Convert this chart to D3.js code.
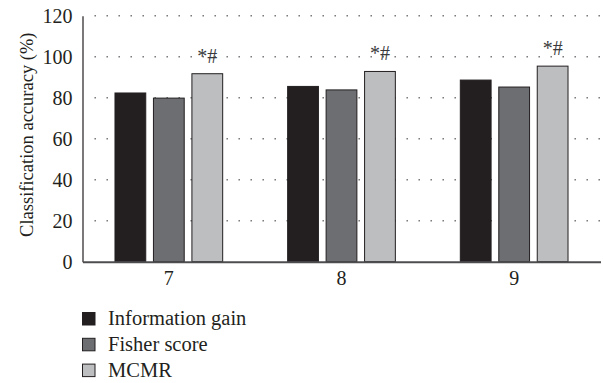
<!DOCTYPE html>
<html>
<head>
<meta charset="utf-8">
<script src="https://cdn.jsdelivr.net/npm/d3@7"></script>
<style>
  html, body { margin: 0; padding: 0; background: #fff; }
  svg { display: block; font-family: "Liberation Serif", "DejaVu Serif", serif; }
</style>
</head>
<body>
<svg id="chart" width="603" height="383"></svg>
<script>
// Number of selected features on the x axis
const categories = ["7", "8", "9"];
// Feature selection methods
const seriesNames = ["Information gain", "Fisher score", "MCMR"];
// Classification accuracy (%) per method
const infoGain = [82.3, 85.5, 88.6];
const fisherScore = [79.8, 83.8, 85.2];
const mcmr = [91.7, 92.8, 95.4];
// Significance markers over MCMR bars
const markers = ["*#", "*#", "*#"];
const yTicks = [0, 20, 40, 60, 80, 100, 120];

const colors = ["#231f20", "#6d6e71", "#bcbec0"];
const seriesValues = [infoGain, fisherScore, mcmr];

const svg = d3.select("#chart");
const plotLeft = 82.5, plotRight = 600.5, plotTop = 15.7, plotBottom = 261.7;

const y = d3.scaleLinear().domain([0, 120]).range([plotBottom, plotTop]);
const x0 = d3.scaleBand().domain(categories).range([plotLeft, plotRight]).padding(0);
const bw = x0.bandwidth();
const groupW = 107.7;
const x1 = d3.scaleBand().domain(seriesNames)
  .range([(bw - groupW) / 2, (bw + groupW) / 2]).paddingInner(0.2).paddingOuter(0);

// Dotted horizontal gridlines
svg.append("g").selectAll("line").data(yTicks.filter(t => t > 0)).join("line")
  .attr("x1", plotLeft + 12).attr("x2", plotRight)
  .attr("y1", d => y(d)).attr("y2", d => y(d))
  .attr("stroke", "#6d6e71").attr("stroke-width", 1.4)
  .attr("stroke-dasharray", "1.4 10.6");

// Bars
const rows = [];
categories.forEach((c, i) => seriesNames.forEach((s, j) => rows.push({ c, s, j, v: seriesValues[j][i] })));
svg.append("g").selectAll("rect").data(rows).join("rect")
  .attr("x", d => x0(d.c) + x1(d.s))
  .attr("y", d => y(d.v))
  .attr("width", x1.bandwidth())
  .attr("height", d => y(0) - y(d.v))
  .attr("fill", d => colors[d.j])
  .attr("stroke", "#231f20").attr("stroke-width", 1);

// Significance markers
svg.append("g").selectAll("text").data(categories).join("text")
  .attr("x", (c) => x0(c) + x1("MCMR") + x1.bandwidth() / 2)
  .attr("y", (c, i) => y(mcmr[i]) - 11)
  .attr("text-anchor", "middle")
  .attr("font-size", 20).attr("fill", "#3a3a3c")
  .text((c, i) => markers[i]);

// Y axis
const yAxis = svg.append("g").attr("transform", `translate(${plotLeft},0)`)
  .call(d3.axisLeft(y).tickValues(yTicks).tickSize(0).tickPadding(10));
yAxis.select(".domain").attr("stroke", "#231f20").attr("stroke-width", 1.2);
yAxis.selectAll("text").attr("font-size", 20).attr("font-family", "Liberation Serif").attr("fill", "#231f20");

// X axis
const xAxis = svg.append("g").attr("transform", `translate(0,${plotBottom})`)
  .call(d3.axisBottom(x0).tickSize(0).tickPadding(9));
xAxis.select(".domain").attr("stroke", "#4d4d4f").attr("stroke-width", 2);
xAxis.selectAll("text").attr("font-size", 20).attr("font-family", "Liberation Serif").attr("fill", "#231f20");

// Y axis title
svg.append("text")
  .attr("transform", `translate(33,${(plotTop + plotBottom) / 2 - 4}) rotate(-90)`)
  .attr("text-anchor", "middle").attr("font-size", 18.5).attr("fill", "#231f20")
  .text("Classification accuracy (%)");

// Legend
const legend = svg.append("g").selectAll("g").data(seriesNames).join("g")
  .attr("transform", (d, i) => `translate(82.5,${312.5 + i * 25.8})`);
legend.append("rect").attr("width", 12.5).attr("height", 12.5)
  .attr("fill", (d, i) => colors[i]).attr("stroke", "#231f20").attr("stroke-width", 1);
legend.append("text").attr("x", 25.5).attr("y", 12.7)
  .attr("font-size", 20.5).attr("fill", "#231f20").text(d => d);
</script>
</body>
</html>
